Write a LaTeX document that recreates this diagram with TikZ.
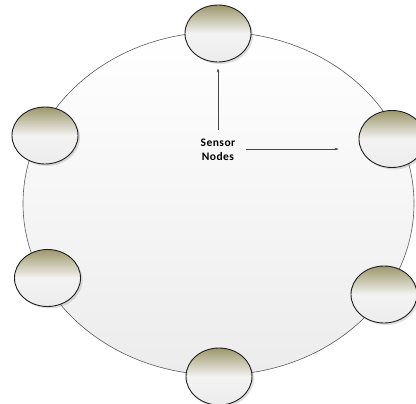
\documentclass[tikz,border=0pt]{standalone}
\usepackage{fontspec}
\newfontfamily\lblfont{Carlito}[LetterSpace=4]
\usetikzlibrary{shapes.geometric,shadows,arrows.meta}
\definecolor{olive1}{RGB}{156,151,106}
\definecolor{mid1}{RGB}{243,243,243}
\definecolor{bot1}{RGB}{236,236,236}
\definecolor{ringline}{RGB}{90,90,90}
\pgfdeclareverticalshading{sensshade}{100bp}{color(0bp)=(bot1); color(25bp)=(bot1); color(50bp)=(mid1); color(56bp)=(mid1!75!olive1); color(75bp)=(olive1); color(100bp)=(olive1)}
\pgfdeclareverticalshading{ringshade}{100bp}{color(0bp)=(bot1); color(25bp)=(bot1); color(75bp)=(white); color(100bp)=(white)}
\tikzset{
  big/.style={ellipse, draw=ringline, line width=0.6pt, inner sep=0pt, shading=ringshade},
  sensor/.style={ellipse, draw={rgb,255:red,30;green,30;blue,30}, line width=0.9pt, inner sep=0pt,
    minimum width=66pt, minimum height=57pt, shading=sensshade,
    drop shadow={shadow xshift=2pt, shadow yshift=-2pt, opacity=0.25}},
  arr/.style={-{Stealth[length=4pt,width=2.6pt]}, draw={rgb,255:red,70;green,70;blue,70}, line width=0.5pt},
  lbl/.style={font=\lblfont\bfseries\fontsize{11.5pt}{14pt}\selectfont, align=center, inner sep=0pt}
}
\begin{document}
\begin{tikzpicture}[x=1pt,y=-1pt]
\useasboundingbox (0,0) rectangle (416,404);
\begin{scope}
\clip (0,0) rectangle (416,404);
\node[big, minimum width=391pt, minimum height=343pt] (ring) at (218.5,203.5) {};
\node[sensor] (top) at (218,33.5) {};
\node[sensor] (lu) at (45,135.5) {};
\node[sensor] (ru) at (392,139) {};
\node[sensor] (ll) at (47.5,278) {};
\node[sensor] (rl) at (384,294.5) {};
\node[sensor] (bot) at (219,376.5) {};
\end{scope}
\node[lbl] (label) at (218,150) {Sensor\\Nodes};
\draw[arr, shorten <=9pt, shorten >=6pt] (label.north -| top.south) -- (top.south);
\draw[arr, shorten <=11pt, shorten >=20pt] (label.east |- 0,149) -- (ru.west |- 0,149);
\end{tikzpicture}
\end{document}
